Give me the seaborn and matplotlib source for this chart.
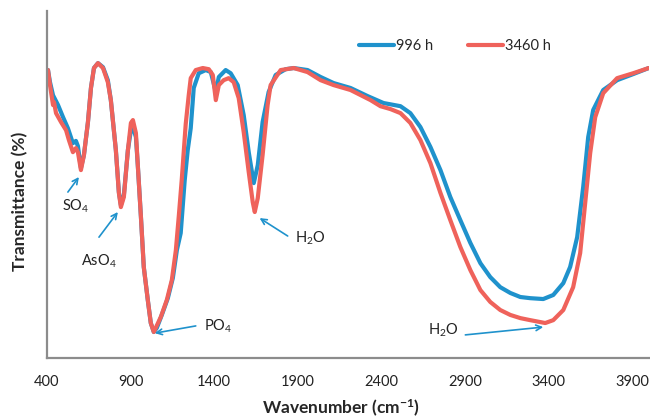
import numpy as np
import pandas as pd
import matplotlib
matplotlib.use("Agg")
import matplotlib.pyplot as plt
import seaborn as sns

# ---- data ----
wn_996 = [406, 418, 436, 466, 496, 525, 555, 573, 585, 603, 621, 645, 663, 681, 705, 735, 764,
          782, 812, 830, 842, 860, 884, 902, 914, 932, 944, 962, 979, 1003, 1021, 1039, 1057,
          1087, 1123, 1153, 1177, 1200, 1224, 1242, 1260, 1278, 1308, 1350, 1380, 1410, 1428,
          1469, 1499, 1541, 1577, 1607, 1637, 1661, 1690, 1726, 1768, 1828, 1876, 1959, 2037,
          2115, 2216, 2318, 2413, 2515, 2574, 2634, 2694, 2754, 2813, 2873, 2933, 2993, 3052,
          3112, 3172, 3232, 3291, 3369, 3429, 3489, 3530, 3572, 3608, 3638, 3668, 3728, 3811,
          3907, 4000]
t_996 = [99.6, 95.4, 90.9, 87.5, 83.3, 79.5, 74.3, 75.1, 73.3, 65.7, 70.2, 81.6, 93.4, 100.3,
         102.0, 100.6, 96.1, 89.2, 71.9, 57.4, 52.9, 56.4, 71.9, 78.8, 79.9, 76.4, 66.0, 48.8,
         31.5, 20.1, 12.1, 9.0, 10.4, 14.9, 20.7, 27.7, 37.3, 43.2, 61.5, 71.9, 79.5, 93.4, 98.5,
         99.6, 98.9, 92.0, 97.2, 99.6, 98.5, 94.4, 84.0, 71.2, 60.5, 66.7, 81.6, 92.0, 97.9,
         99.9, 100.3, 99.6, 97.2, 95.1, 93.4, 90.6, 88.2, 87.1, 84.7, 79.9, 73.0, 65.0, 55.7,
         47.7, 39.8, 32.8, 28.0, 24.5, 22.5, 21.1, 20.7, 20.4, 21.8, 25.9, 31.5, 41.8, 59.1,
         76.4, 85.8, 92.7, 96.1, 98.2, 100.3]

wn_3460 = [406, 418, 436, 442, 454, 484, 514, 531, 555, 573, 585, 603, 621, 645, 663, 681, 705,
           735, 764, 782, 812, 830, 842, 860, 884, 902, 914, 932, 944, 962, 979, 1003, 1021,
           1039, 1081, 1117, 1147, 1171, 1189, 1206, 1230, 1248, 1260, 1290, 1332, 1368, 1392,
           1410, 1428, 1457, 1487, 1517, 1547, 1577, 1607, 1631, 1643, 1661, 1690, 1720, 1738,
           1798, 1876, 1959, 2037, 2115, 2216, 2336, 2395, 2455, 2515, 2574, 2634, 2694, 2754,
           2813, 2873, 2933, 2993, 3052, 3112, 3172, 3232, 3291, 3381, 3429, 3489, 3548, 3590,
           3620, 3650, 3680, 3728, 3811, 3907, 4000]
t_3460 = [99.6, 94.4, 87.5, 88.5, 84.7, 81.6, 78.8, 75.4, 71.2, 72.6, 71.2, 65.0, 70.2, 81.6,
          93.4, 100.3, 102.0, 100.3, 95.4, 89.2, 71.9, 57.1, 52.2, 55.7, 71.9, 81.3, 82.3, 77.8,
          66.0, 48.8, 31.5, 20.1, 12.1, 9.0, 14.2, 20.1, 27.0, 37.3, 49.4, 61.5, 80.9, 90.9,
          96.8, 99.6, 100.3, 99.9, 97.9, 89.2, 94.4, 96.1, 96.8, 95.4, 89.9, 78.1, 64.3, 53.9,
          50.5, 55.3, 70.2, 87.5, 94.4, 99.6, 100.3, 98.9, 96.1, 94.4, 92.7, 89.2, 87.1, 86.1,
          84.7, 81.3, 75.4, 67.4, 57.1, 47.7, 38.4, 30.4, 23.5, 19.4, 16.6, 14.9, 13.8, 13.1,
          12.1, 13.1, 16.6, 24.5, 36.3, 53.6, 70.9, 83.3, 91.6, 96.8, 98.5, 100.3]

series_names = ["996 h", "3460 h"]
x_ticks = [400, 900, 1400, 1900, 2400, 2900, 3400, 3900]

# ---- build long table ----
df = pd.concat([
    pd.DataFrame({"Wavenumber": wn_996, "T": t_996, "series": series_names[0]}),
    pd.DataFrame({"Wavenumber": wn_3460, "T": t_3460, "series": series_names[1]}),
], ignore_index=True)

sns.set_style("white")
plt.rcParams["font.family"] = ["Lato", "DejaVu Sans"]
plt.rcParams["mathtext.default"] = "regular"

blue = "#1f92cc"
red = "#ef625b"
fig = plt.figure(figsize=(6.5, 4.18), dpi=100)
ax = fig.add_axes([0.0723, 0.1435, 0.9257, 0.830])

sns.lineplot(data=df, x="Wavenumber", y="T", hue="series", sort=False, estimator=None,
             palette={series_names[0]: blue, series_names[1]: red}, linewidth=3.0, ax=ax)
for ln in ax.get_lines():
    ln.set_solid_joinstyle("round")
    ln.set_solid_capstyle("round")

ax.set_xlim(400, 4000)
ax.set_ylim(0, 120)
ax.set_xticks(x_ticks)
ax.set_xticklabels([str(t) for t in x_ticks], fontsize=10.5, color="#222222")
ax.set_xticks(np.arange(400, 4001, 100), minor=True)
ax.set_yticks(np.arange(0, 121, 20))
ax.set_yticklabels([])
ax.tick_params(axis="both", which="both", direction="in", length=4, width=1, color="#888888")
ax.tick_params(axis="x", which="major", pad=12)

for s in ["top", "right"]:
    ax.spines[s].set_visible(False)
for s in ["left", "bottom"]:
    ax.spines[s].set_color("#8c8c8c")
    ax.spines[s].set_linewidth(1.6)

ax.set_xlabel("Wavenumber (cm$^{-1}$)", fontsize=12.5, fontweight="bold")
ax.set_ylabel("Transmittance (%)", fontsize=12.5, fontweight="bold")
ax.xaxis.label.set_va("center")
ax.yaxis.label.set_va("center")
ax.xaxis.set_label_coords(0.488, -0.146)
ax.yaxis.set_label_coords(-0.045, 0.452)

leg = ax.legend(loc="center", bbox_to_anchor=(0.678, 0.899), ncol=2, frameon=False,
                fontsize=10.5, handlelength=2.4, handletextpad=0.1, columnspacing=2.4)
for line in leg.get_lines():
    line.set_linewidth(3.0)

arrow = dict(arrowstyle="->", color=blue, lw=1.2, shrinkA=0, shrinkB=0)
ann_kw = dict(fontsize=10.5, color="#222222", ha="center", va="center")
ax.annotate("", xy=(591, 62.6), xytext=(525, 57.4), arrowprops=arrow)
ax.text(573, 52.6, "SO$_4$", **ann_kw)
ax.annotate("", xy=(824, 50.5), xytext=(711, 41.8), arrowprops=arrow)
ax.text(711, 33.5, "AsO$_4$", **ann_kw)
ax.annotate("", xy=(1045, 8.6), xytext=(1290, 11.1), arrowprops=arrow)
ax.text(1422, 11.1, "PO$_4$", **ann_kw)
ax.annotate("", xy=(1672, 48.4), xytext=(1840, 42.2), arrowprops=arrow)
ax.text(1977, 41.5, "H$_2$O", **ann_kw)
ax.annotate("", xy=(3369, 10.7), xytext=(2903, 8.0), arrowprops=arrow)
ax.text(2772, 9.7, "H$_2$O", **ann_kw)

fig.savefig("out.png", dpi=100)
